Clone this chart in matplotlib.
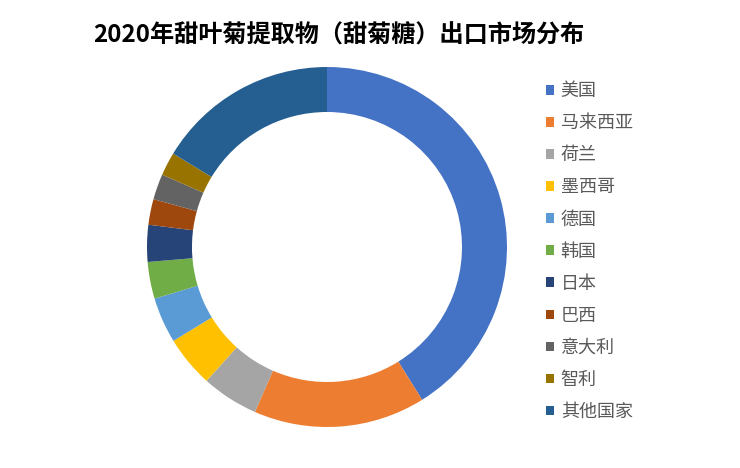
import matplotlib.pyplot as plt
from matplotlib.patches import Patch

plt.rcParams['font.family'] = ['Noto Sans CJK SC', 'DejaVu Sans']

# export share by destination, %
countries = ['美国', '马来西亚', '荷兰', '墨西哥', '德国', '韩国', '日本', '巴西', '意大利', '智利', '其他国家']
shares = [41.1, 15.4, 5.1, 4.6, 4.1, 3.3, 3.3, 2.3, 2.3, 2.1, 16.3]
colors = ['#4472C4', '#ED7D31', '#A5A5A5', '#FFC000', '#5B9BD5', '#70AD47',
          '#264478', '#9E480E', '#636363', '#997300', '#255E91']

W, H = 740, 468
fig = plt.figure(figsize=(W / 100, H / 100), dpi=100)

cx, cy, r = 327, 247, 180
ax = fig.add_axes([(cx - r) / W, (H - cy - r) / H, 2 * r / W, 2 * r / H])
ax.pie(shares, colors=colors, startangle=90, counterclock=False, radius=1.0,
       wedgeprops=dict(width=0.25, edgecolor='none'))
ax.set_xlim(-1, 1)
ax.set_ylim(-1, 1)
ax.set_aspect('equal')
ax.axis('off')

fig.text(93 / W, 1 - 36 / H, '2020年甜叶菊提取物（甜菊糖）出口市场分布',
         fontsize=17.4, fontweight='bold', ha='left', va='center', color='black')

handles = [Patch(facecolor=c, edgecolor='none') for c in colors]
leg = fig.legend(handles, countries, loc='upper left',
                 bbox_to_anchor=(539 / W, 1 - 75 / H), frameon=False,
                 fontsize=13, handlelength=0.45, handleheight=0.45,
                 handletextpad=0.35, labelspacing=0.78, borderaxespad=0)
for t in leg.get_texts():
    t.set_color('#595959')

fig.savefig('out.png', dpi=100)
